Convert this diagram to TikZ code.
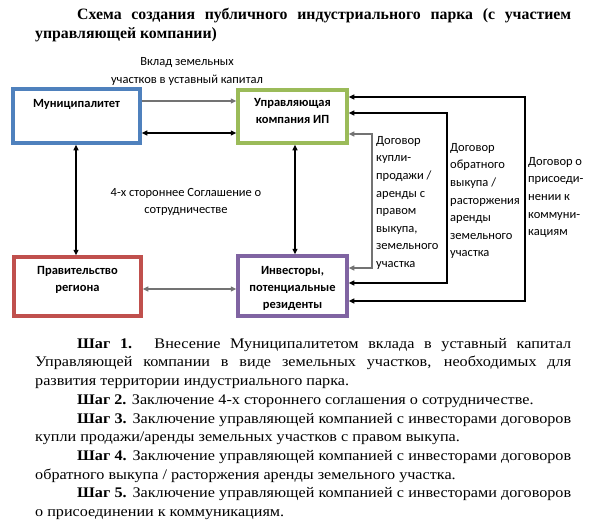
\documentclass[tikz,border=0pt]{standalone}
\usepackage{fontspec}
\setmainfont{Liberation Serif}
\newfontfamily\calib{Carlito}
\newfontfamily\tnr[FakeStretch=1.1]{Liberation Serif}
\usepackage{tikz}
\usetikzlibrary{arrows.meta, positioning, calc}
\definecolor{mblue}{HTML}{4F81BD}
\definecolor{mgreen}{HTML}{9BBB59}
\definecolor{mred}{HTML}{C0504D}
\definecolor{mviolet}{HTML}{8064A2}
\tikzset{
  blok/.style={rectangle, draw, line width=3.5pt, fill=white, inner sep=0pt,
               minimum width=127pt, minimum height=54pt},
  btxt/.style={anchor=north, inner sep=0pt, align=center,
               font=\calib\bfseries\fontsize{12.5}{17}\selectfont},
  lbl/.style={anchor=north west, inner sep=0pt, align=left,
              font=\calib\fontsize{12.5}{17.6}\selectfont},
  ctxt/.style={inner sep=0pt, align=center, font=\calib\fontsize{12.5}{18}\selectfont},
  arc/.style={line width=1.3pt, black},
  garc/.style={line width=1.3pt, black!55},
  para/.style={anchor=north west, inner sep=0pt, text width=536pt, align=justify,
               font=\tnr\fontsize{14.7}{18.7}\selectfont}
}

\begin{document}
\begin{tikzpicture}[x=1pt, y=-1pt, >={Triangle[length=5.5pt, width=5pt]}]
  \useasboundingbox (0,0) rectangle (590,528);

  % title
  \node[para, font=\rmfamily\bfseries\fontsize{15.8}{19.5}\selectfont] (titulo) at (35,7.5)
    {\hyphenpenalty=10000\hspace*{42pt}Схема создания публичного индустриального парка (с~участием\linebreak
     управляющей компании)};

  % boxes
  \node[blok, draw=mblue] (muni) at (76.5,116) {};
  \node[blok, draw=mgreen, minimum width=109pt, minimum height=53pt] (uk) at (292.5,116.5) {};
  \node[blok, draw=mred, minimum height=59pt] (prav) at (77.5,286.5) {};
  \node[blok, draw=mviolet, minimum width=109pt, minimum height=60pt] (inv) at (292.5,286) {};

  \node[btxt] (muni-t) at ($(muni.north)+(0,12)$) {Муниципалитет};
  \node[btxt] (uk-t) at ($(uk.north)+(0,10)$) {Управляющая\\компания ИП};
  \node[btxt] (prav-t) at ($(prav.north)+(0,11)$) {Правительство\\региона};
  \node[btxt] (inv-t) at ($(inv.north)+(0,12)$) {Инвесторы,\\потенциальные\\резиденты};

  % connectors
  \draw[garc, ->] (muni.east |- 0,101) -- (uk.west |- 0,101);
  \draw[arc, <->] (muni.east |- 0,133) -- (uk.west |- 0,133);
  \draw[arc, <->] (muni.south -| 76,0) -- (prav.north -| 76,0);
  \draw[arc, <->] (uk.south -| 295,0) -- (inv.north -| 295,0);
  \draw[garc, <->] (prav.east |- 0,289) -- (inv.west |- 0,289);
  \draw[garc, <->] (inv.east |- 0,268) -| (372,200) |- (uk.east |- 0,134);
  \draw[arc, <->] (inv.east |- 0,283) -| (447,200) |- (uk.east |- 0,113);
  \draw[arc, <->] (inv.east |- 0,301) -| (525,200) |- (uk.east |- 0,97);

  % labels
  \node[ctxt] (vklad) at (187,71.5) {Вклад земельных\\участков в уставный капитал};
  \node[ctxt, font=\calib\fontsize{12.5}{17}\selectfont] (sogl) at (186,201.5)
    {4-х стороннее Соглашение о\\сотрудничестве};
  \node[lbl] (d1) at (376,136) {Договор\\купли-\\продажи /\\аренды с\\правом\\выкупа,\\земельного\\участка};
  \node[lbl] (d2) at (450,143) {Договор\\обратного\\выкупа /\\расторжения\\аренды\\земельного\\участка};
  \node[lbl] (d3) at (528,157) {Договор о\\присоеди-\\нении к\\коммуни-\\кациям};

  % steps
  \node[para] (shagi) at (35,338)
    {\hyphenpenalty=10000
     \hspace*{42pt}\textbf{Шаг 1.} Внесение Муниципалитетом вклада в уставный капитал\linebreak
     Управляющей компании в виде земельных участков, необходимых для\linebreak
     развития территории индустриального парка.\par
     \hspace*{42pt}\textbf{Шаг 2.} Заключение 4-х стороннего соглашения о сотрудничестве.\par
     \hspace*{42pt}\textbf{Шаг 3.} Заключение управляющей компанией с инвесторами договоров\linebreak
     купли продажи/аренды земельных участков с правом выкупа.\par
     \hspace*{42pt}\textbf{Шаг 4.} Заключение управляющей компанией с инвесторами договоров\linebreak
     обратного выкупа / расторжения аренды земельного участка.\par
     \hspace*{42pt}\textbf{Шаг 5.} Заключение управляющей компанией с инвесторами договоров\linebreak
     о присоединении к коммуникациям.};
\end{tikzpicture}
\end{document}
